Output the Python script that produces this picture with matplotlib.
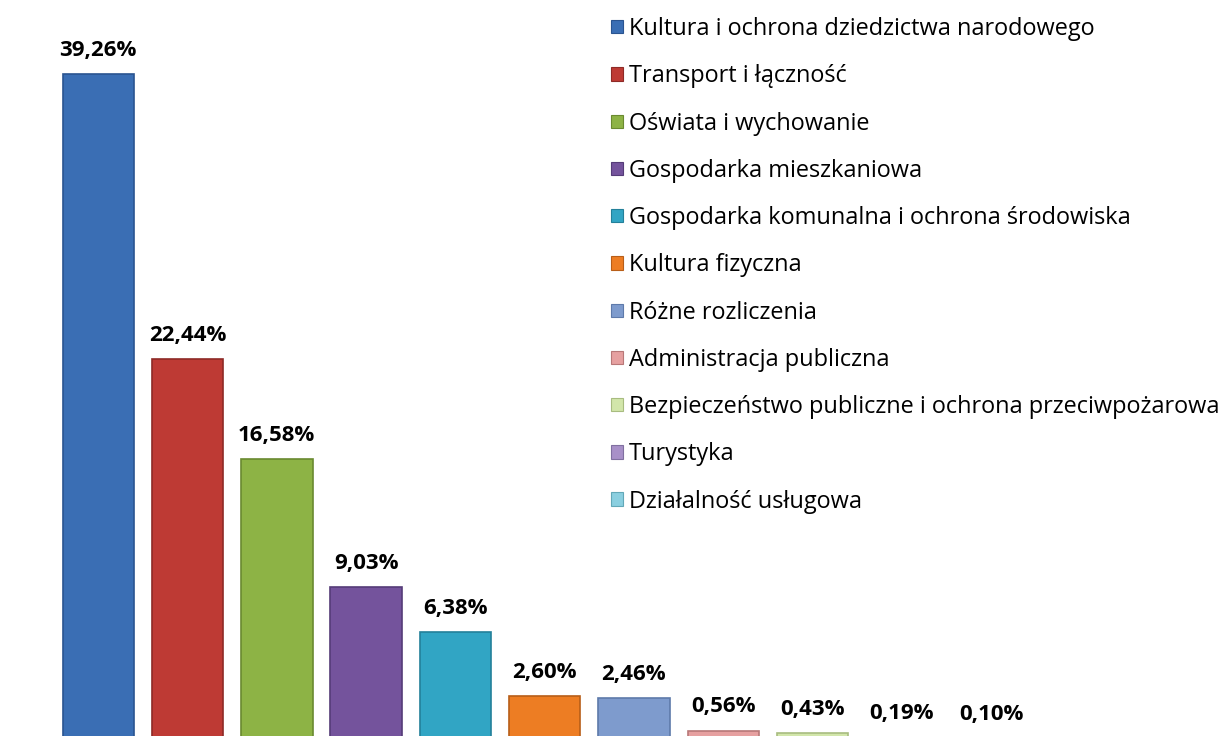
import numpy as np
import matplotlib
matplotlib.use("Agg")
import matplotlib.pyplot as plt
from matplotlib.patches import Patch

plt.rcParams["font.family"] = ["Open Sans", "DejaVu Sans"]

# dane ------------------------------------------------------------------------
categories = [
    "Kultura i ochrona dziedzictwa narodowego",
    "Transport i łączność",
    "Oświata i wychowanie",
    "Gospodarka mieszkaniowa",
    "Gospodarka komunalna i ochrona środowiska",
    "Kultura fizyczna",
    "Różne rozliczenia",
    "Administracja publiczna",
    "Bezpieczeństwo publiczne i ochrona przeciwpożarowa",
    "Turystyka",
    "Działalność usługowa",
]
values = [39.26, 22.44, 16.58, 9.03, 6.38, 2.60, 2.46, 0.56, 0.43, 0.19, 0.10]
colors = ["#3A6EB4", "#BE3A34", "#8DB345", "#74539C", "#31A5C4", "#ED7D23",
          "#7E9BCD", "#E6A0A0", "#D2E6AA", "#A890C8", "#8ACFE0"]
edges = ["#2A5490", "#8E2A26", "#6A8A30", "#553C78", "#23809A", "#B85E18",
         "#5E7AAA", "#B87878", "#A8BC80", "#8070A0", "#62A8B8"]
# -----------------------------------------------------------------------------

fig = plt.figure(figsize=(12.25, 7.36), dpi=100)
ax = fig.add_axes([0, -4 / 736, 1, 740 / 736])

x = np.arange(len(values))
bars = ax.bar(x, values, width=0.8, color=colors, edgecolor=edges, linewidth=1.2)

for xi, v in zip(x, values):
    ax.annotate(f"{v:.2f}%".replace(".", ","), (xi, v), xytext=(0, 17),
                textcoords="offset points", ha="center", va="center",
                fontsize=16, fontweight="bold")

ax.set_xlim(-1.1, 12.62)
ax.set_ylim(0, 43.63)
ax.axis("off")

handles = [Patch(facecolor=c, edgecolor=e, linewidth=0.8) for c, e in zip(colors, edges)]
fig.legend(handles, categories, loc="upper left", bbox_to_anchor=(590 / 1225, 1 + 4 / 736),
           frameon=False, fontsize=16.9, handlelength=0.5, handleheight=0.5,
           handletextpad=0.25, labelspacing=0.99)

fig.savefig("out.png", dpi=100)
